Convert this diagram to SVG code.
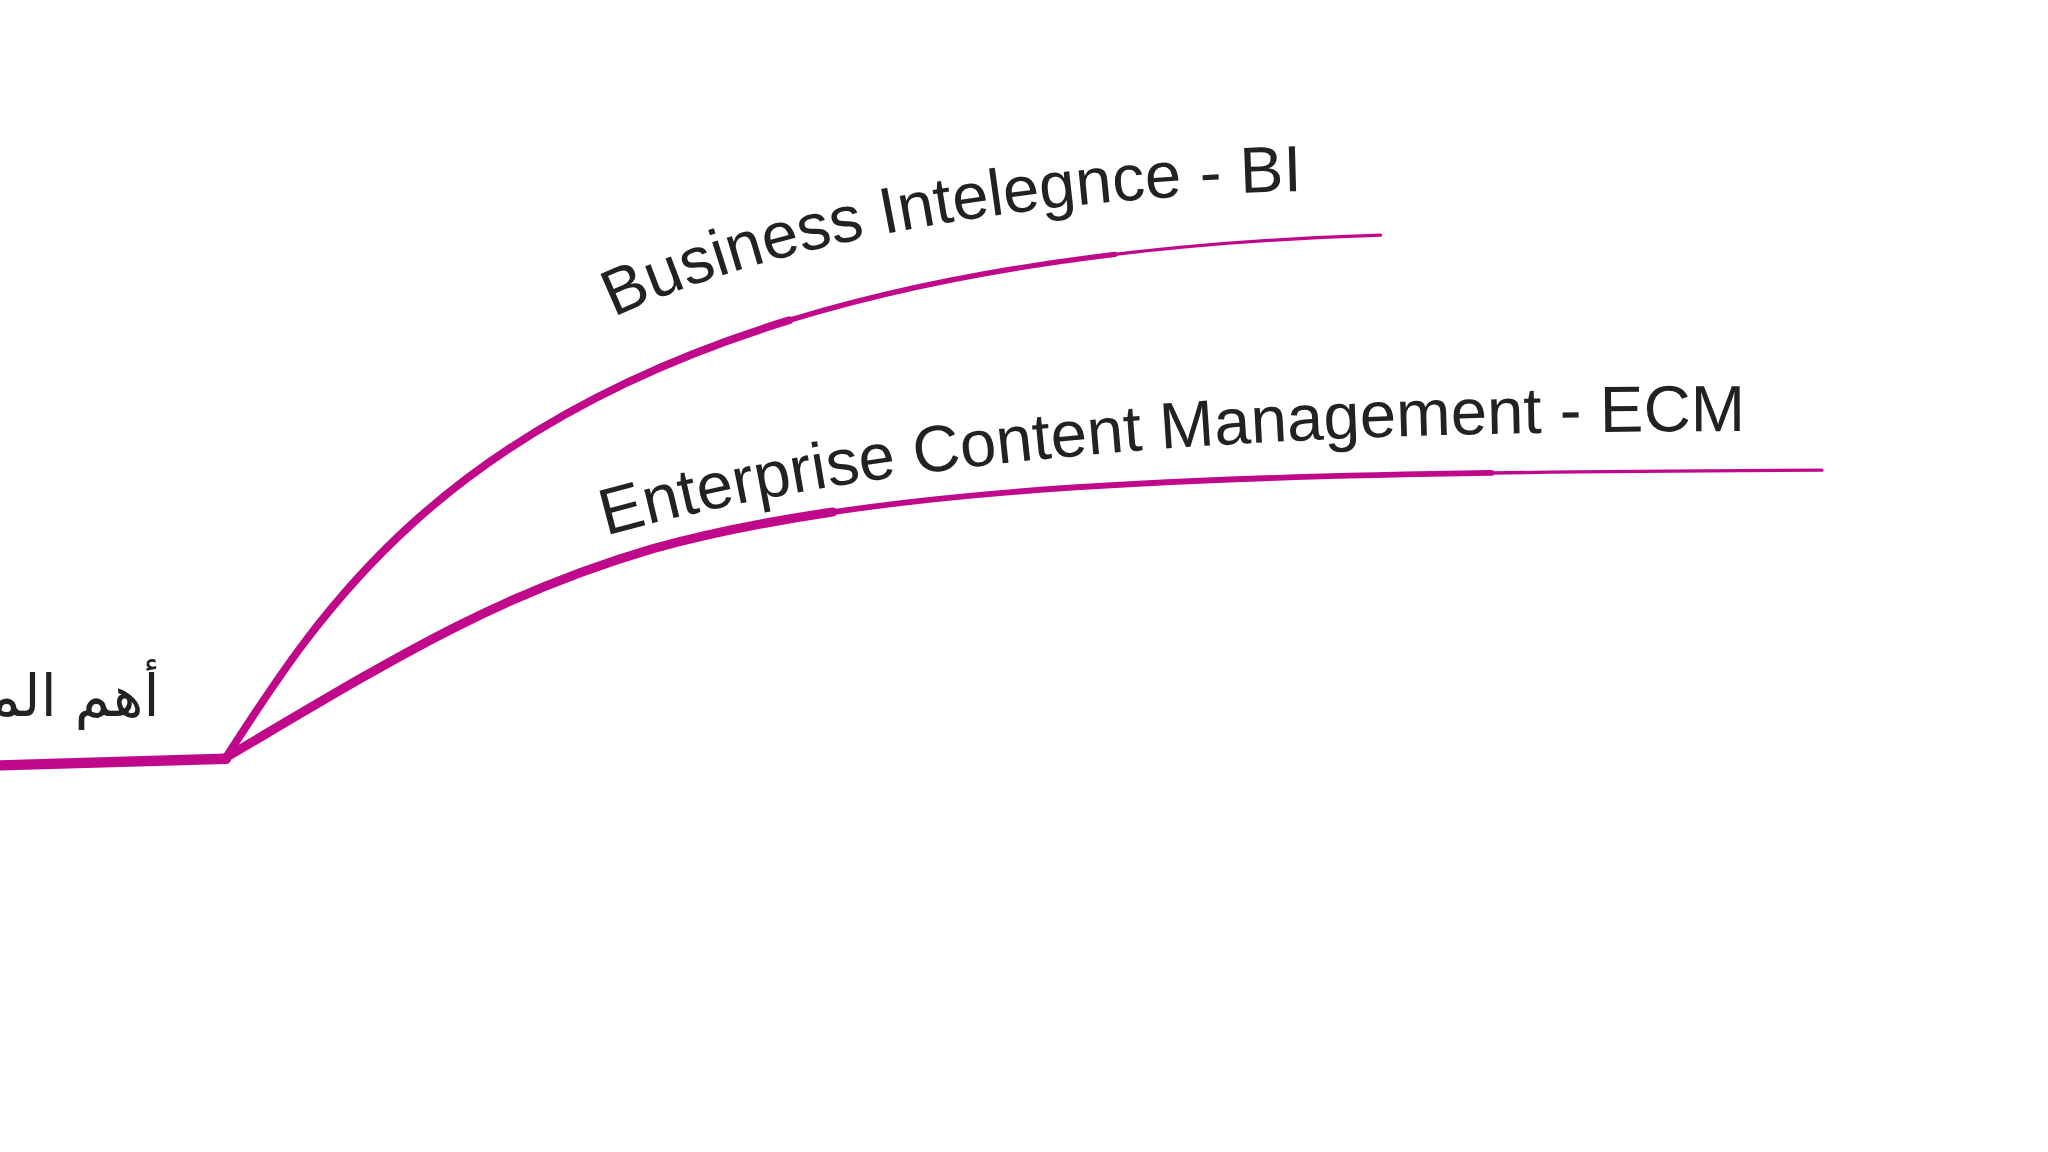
<svg xmlns="http://www.w3.org/2000/svg" width="2048" height="1152" viewBox="0 0 2048 1152">
<style>
.br{fill:none;stroke:#c0098a;stroke-linecap:round;stroke-linejoin:round}
.lb{font-family:"Liberation Sans",Arial,sans-serif;font-size:50px;fill:#222}
</style>
<defs>
<path id="p1" d="M470,243 C 600,182 800,150 1010,146"/>
<path id="p2" d="M464,410 C 700,345 1000,330 1350,330"/>
<path id="b1" d="M173,580 C 270,430 410,200 1057,180"/>
<path id="b2" d="M173,580 C 300,505 380,455 500,420 C 700,365 1000,362 1395,360"/>
</defs>
<rect width="2048" height="1152" fill="#fff"/>
<g transform="scale(1.3061)">
<g id="connectors">
<path class="br" stroke-width="8" d="M0,586 L173,581"/>
<use href="#b1" class="br" stroke-width="2.5"/>
<path class="br" stroke-width="6" d="M173,580 C 270,430 410,200 1057,180" pathLength="100" stroke-dasharray="55 200"/>
<path class="br" stroke-width="4" d="M173,580 C 270,430 410,200 1057,180" pathLength="100" stroke-dasharray="80 200"/>
<use href="#b2" class="br" stroke-width="2.5"/>
<path class="br" stroke-width="7" d="M173,580 C 300,505 380,455 500,420 C 700,365 1000,362 1395,360" pathLength="100" stroke-dasharray="40 200"/>
<path class="br" stroke-width="4.5" d="M173,580 C 300,505 380,455 500,420 C 700,365 1000,362 1395,360" pathLength="100" stroke-dasharray="80 200"/>
</g>
<g id="root"><text x="122" y="548" direction="rtl" text-anchor="start" font-family="'DejaVu Sans',sans-serif" font-size="44" fill="#222">أهم المفاهيم</text></g>
<g id="bi"><text class="lb"><textPath href="#p1">Business Intelegnce - BI</textPath></text></g>
<g id="ecm"><text class="lb"><textPath href="#p2">Enterprise Content Management - ECM</textPath></text></g>
</g>
</svg>
